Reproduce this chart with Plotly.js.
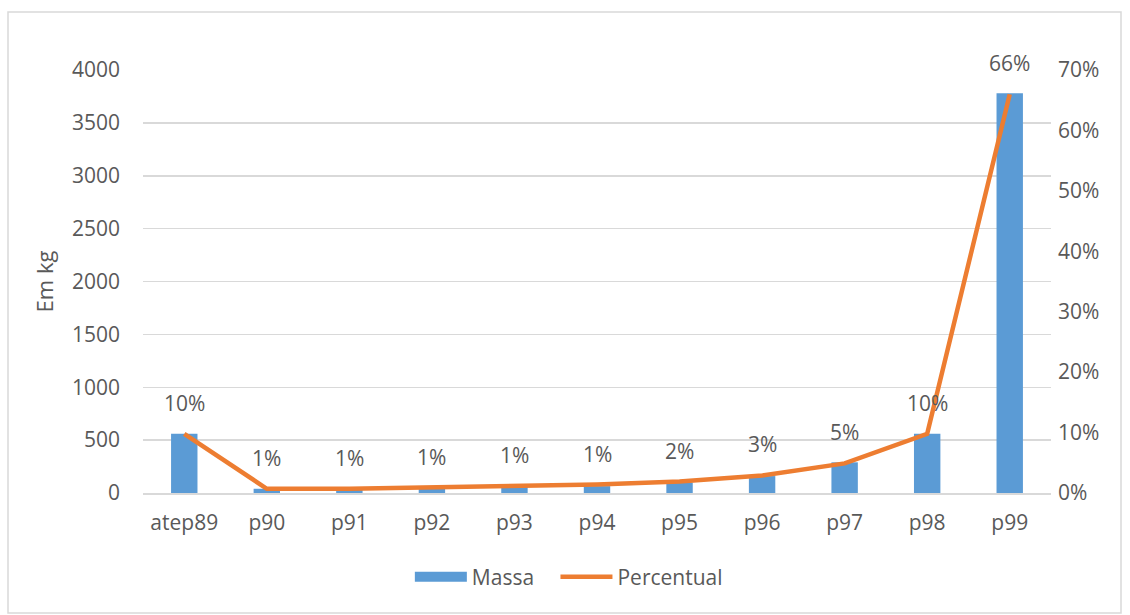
<!DOCTYPE html>
<html>
<head>
<meta charset="utf-8">
<script src="https://cdn.plot.ly/plotly-3.0.1.min.js"></script>
<style>
html,body{margin:0;padding:0;background:#fff;}
#chart{width:1130px;height:615px;}
</style>
</head>
<body>
<div id="chart"></div>
<script>
const categories = ['atep89','p90','p91','p92','p93','p94','p95','p96','p97','p98','p99'];
const massa = [560, 40, 38, 45, 55, 65, 100, 160, 290, 560, 3780];
const percentual = [0.098, 0.007, 0.007, 0.009, 0.011, 0.014, 0.019, 0.029, 0.049, 0.098, 0.66];

const fontFam = '"Open Sans", "Noto Sans", sans-serif';
const gray = '#595959';
const fs = 21;

const traces = [
  {
    type: 'bar', name: 'Massa', x: categories, y: massa,
    marker: {color: '#5b9bd5'}, width: 0.32, yaxis: 'y', showlegend: false
  },
  {
    type: 'scatter', mode: 'lines', name: 'Massa\u00a0\u00a0\u00a0', x: [null], y: [null],
    line: {color: '#5b9bd5', width: 11}, yaxis: 'y', hoverinfo: 'skip'
  },
  {
    type: 'scatter', mode: 'lines', name: 'Percentual', x: categories, y: percentual,
    line: {color: '#ed7d31', width: 4.5}, yaxis: 'y2'
  }
];

const annotations = categories.map((c, i) => ({
  x: c, y: percentual[i], xref: 'x', yref: 'y2',
  text: Math.round(percentual[i] * 100) + '%',
  showarrow: false, yshift: 31,
  font: {family: fontFam, size: fs, color: gray}
}));

const layout = {
  width: 1130, height: 615,
  margin: {l: 143, r: 79, t: 70, b: 122},
  paper_bgcolor: '#fff', plot_bgcolor: '#fff',
  font: {family: fontFam, size: fs, color: gray},
  showlegend: true,
  legend: {orientation: 'h', x: 0.469, xanchor: 'center', y: -0.199, yanchor: 'middle',
    font: {family: fontFam, size: fs, color: gray}, itemwidth: 52, traceorder: 'normal'},
  xaxis: {
    type: 'category', showgrid: false, showline: true, linecolor: '#d9d9d9', linewidth: 1.5,
    ticks: '', tickfont: {family: fontFam, size: fs, color: gray}, ticklabelstandoff: 10
  },
  yaxis: {
    range: [0, 4000], dtick: 500, tick0: 0, showgrid: true, gridcolor: '#d9d9d9', gridwidth: 1.5,
    zeroline: false, showline: false, ticks: '',
    tickfont: {family: fontFam, size: fs, color: gray}, ticklabelstandoff: 22,
    title: {text: 'Em kg', font: {family: fontFam, size: 22, color: gray}, standoff: 12}
  },
  yaxis2: {
    range: [0, 0.7], dtick: 0.1, tick0: 0, tickformat: '.0%', overlaying: 'y', side: 'right',
    showgrid: false, zeroline: false, showline: false, ticks: '',
    tickfont: {family: fontFam, size: fs, color: gray}, ticklabelstandoff: 6
  },
  annotations: annotations,
  shapes: [{
    type: 'rect', xref: 'paper', yref: 'paper',
    x0: -135/908, x1: 1121/908 - 143/908, y0: (493 - 613) / 423, y1: (493 - 12) / 423,
    line: {color: '#d9d9d9', width: 1.5}, fillcolor: 'rgba(0,0,0,0)', layer: 'below'
  }]
};

Plotly.newPlot('chart', traces, layout, {displayModeBar: false, staticPlot: true});
</script>
</body>
</html>
